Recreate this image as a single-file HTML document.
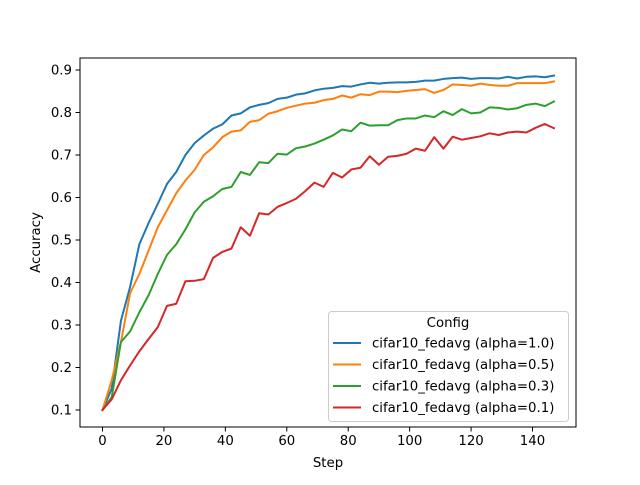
<!DOCTYPE html>
<html><head><meta charset="utf-8"><style>
body{margin:0;background:#fff}
text{font-family:"DejaVu Sans","Liberation Sans",sans-serif;font-size:13.3px;fill:#000}
</style></head><body>
<svg id="chart" width="640" height="480" xmlns="http://www.w3.org/2000/svg">
<rect width="640" height="480" fill="#fff"/>
<g id="plot"></g>
</svg>
<script>
const steps = [];
for (let s = 0; s <= 147; s += 3) steps.push(s);
const seriesNames = ["cifar10_fedavg (alpha=1.0)","cifar10_fedavg (alpha=0.5)","cifar10_fedavg (alpha=0.3)","cifar10_fedavg (alpha=0.1)"];
const alpha10 = [0.10,0.15,0.31,0.39,0.49,0.54,0.585,0.632,0.66,0.70,0.728,0.746,0.762,0.772,0.793,0.798,0.812,0.818,0.822,0.832,0.835,0.842,0.845,0.852,0.856,0.858,0.862,0.861,0.866,0.870,0.868,0.870,0.871,0.871,0.872,0.875,0.875,0.879,0.881,0.882,0.879,0.881,0.881,0.880,0.884,0.880,0.884,0.885,0.883,0.887];
const alpha05 = [0.10,0.17,0.26,0.375,0.42,0.475,0.53,0.57,0.61,0.64,0.665,0.70,0.718,0.742,0.755,0.758,0.778,0.782,0.797,0.803,0.811,0.816,0.821,0.823,0.829,0.832,0.84,0.835,0.843,0.841,0.849,0.849,0.848,0.851,0.853,0.855,0.846,0.853,0.866,0.865,0.863,0.868,0.865,0.863,0.863,0.869,0.869,0.869,0.869,0.873];
const alpha03 = [0.10,0.13,0.26,0.285,0.33,0.37,0.42,0.465,0.49,0.525,0.565,0.59,0.603,0.62,0.625,0.66,0.653,0.683,0.681,0.703,0.701,0.716,0.72,0.727,0.736,0.746,0.76,0.756,0.776,0.769,0.770,0.770,0.782,0.786,0.786,0.793,0.789,0.803,0.794,0.808,0.798,0.800,0.812,0.811,0.807,0.810,0.818,0.821,0.815,0.826];
const alpha01 = [0.10,0.125,0.17,0.205,0.238,0.267,0.295,0.345,0.35,0.403,0.404,0.408,0.458,0.472,0.48,0.53,0.51,0.563,0.56,0.578,0.587,0.597,0.615,0.635,0.625,0.658,0.647,0.666,0.67,0.697,0.677,0.696,0.698,0.703,0.715,0.71,0.742,0.715,0.743,0.736,0.74,0.744,0.751,0.747,0.753,0.755,0.753,0.764,0.773,0.763];
const xTicks = [0,20,40,60,80,100,120,140];
const yTicks = [0.1,0.2,0.3,0.4,0.5,0.6,0.7,0.8,0.9];
const colors = ["#1f77b4","#ff7f0e","#2ca02c","#d62728"];
const allSeries = [alpha10, alpha05, alpha03, alpha01];

const L=80,R=576,T=58,B=427;
const xs = v => 102.5 + v*(554-102.5)/147;
const ys = v => 410 - (v-0.1)*(410-70)/0.8;
const NS="http://www.w3.org/2000/svg";
const g=document.getElementById('plot');
function mk(tag,attrs,parent){const e=document.createElementNS(NS,tag);for(const k in attrs)e.setAttribute(k,attrs[k]);(parent||g).appendChild(e);return e;}

allSeries.forEach((arr,i)=>{
  const p=mk('polyline',{points:arr.map((v,j)=>xs(steps[j])+','+ys(v)).join(' '),fill:'none',stroke:colors[i],'stroke-width':2,'stroke-linejoin':'round','stroke-linecap':'square'});
  
  
});
const frame=mk('rect',{x:L,y:T,width:R-L,height:B-T,fill:'none',stroke:'#000','stroke-width':1});


xTicks.forEach(t=>{
  const x=xs(t);
  mk('line',{x1:x,x2:x,y1:B,y2:B+4.5,stroke:'#000'});
  const tx=mk('text',{x:x,y:B+18,'text-anchor':'middle'});tx.textContent=t;
  
  
});
yTicks.forEach(t=>{
  const y=ys(t);
  mk('line',{x1:L-4.5,x2:L,y1:y,y2:y,stroke:'#000'});
  const tx=mk('text',{x:L-8,y:y+4.5,'text-anchor':'end'});tx.textContent=t.toFixed(1);
  
  
});
const xt=mk('text',{x:(L+R)/2,y:467,'text-anchor':'middle'});xt.textContent='Step';


const yt=mk('text',{x:0,y:0,'text-anchor':'middle',transform:'translate(40,'+((T+B)/2)+') rotate(-90)'});yt.textContent='Accuracy';



const lg=mk('g',{});


mk('rect',{x:328.5,y:311.5,width:240,height:110,rx:3,fill:'#fff','fill-opacity':0.8,stroke:'#ccc'},lg);
const lt=mk('text',{x:448,y:327,'text-anchor':'middle'},lg);lt.textContent='Config';


seriesNames.forEach((n,i)=>{
  const y=343+i*21.5;
  const ln=mk('line',{x1:333,x2:361,y1:y,y2:y,stroke:colors[i],'stroke-width':2},lg);
  
  
  const t=mk('text',{x:372,y:y+4.5},lg);t.textContent=n;
  
  
});
</script>
</body></html>
